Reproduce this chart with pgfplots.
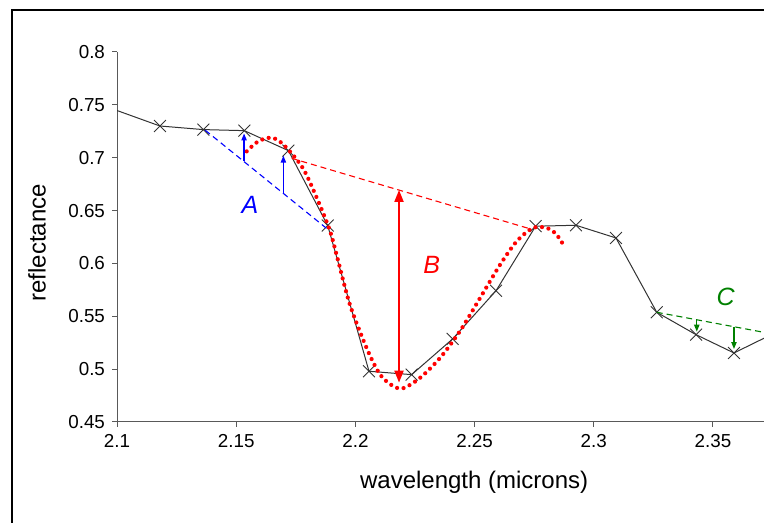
\documentclass[border=0pt]{standalone}
\usepackage{fontspec}
\setmainfont{Liberation Sans}
\usepackage{pgfplots}
\pgfplotsset{compat=1.18}
\usetikzlibrary{arrows.meta}

\definecolor{xlblue}{RGB}{0,0,255}
\definecolor{xlred}{RGB}{255,0,0}
\definecolor{xlgreen}{RGB}{0,128,0}

\begin{document}
\begin{tikzpicture}
\useasboundingbox (0,0) rectangle (382pt,261.5pt);
% outer chart frame, cut by the picture edge
\begin{scope}
\clip (0,0) rectangle (382pt,261.5pt);
\draw[line width=1pt] (6.15pt,-5pt) -- (6.15pt,256.35pt) -- (400pt,256.35pt);
\end{scope}
\begin{axis}[
    at={(58.5pt,50.5pt)}, anchor=south west,
    scale only axis, width=323.5pt, height=185pt,
    xmin=2.1, xmax=2.3714, ymin=0.45, ymax=0.8,
    axis x line=bottom, axis y line=left,
    axis line style={-, draw=black!65, line width=0.5pt},
    xtick={2.1,2.15,2.2,2.25,2.3,2.35},
    ytick={0.45,0.5,0.55,0.6,0.65,0.7,0.75,0.8},
    tick align=outside, major tick length=2.5pt,
    tick style={draw=black!65, line width=0.5pt},
    /pgf/number format/assume math mode=true,
    /pgf/number format/fixed, /pgf/number format/precision=2,
    tick label style={font=\fontsize{9.4}{11}\selectfont, text=black},
    xlabel={wavelength (microns)}, ylabel={reflectance},
    label style={font=\fontsize{12}{14}\selectfont},
    xlabel style={at={(axis description cs:0.552,-0.162)}, anchor=center},
    ylabel style={at={(axis description cs:-0.1236,0.484)}, anchor=center},
    clip=true, clip marker paths=true,
]
% measured spectrum
\addplot[black!80, line width=0.5pt, mark=x, mark size=4.2pt, mark options={line width=0.45pt}] coordinates {
    (2.0836,0.758)(2.1180,0.730)(2.1362,0.7266)(2.1534,0.7256)(2.1719,0.7067)
    (2.1884,0.6358)(2.2057,0.498)(2.2236,0.4948)(2.2408,0.5286)(2.2590,0.5742)
    (2.2756,0.6352)(2.2925,0.6361)(2.3093,0.6241)(2.3264,0.5538)(2.3429,0.5326)
    (2.3588,0.5153)(2.3757,0.534)
};
% fitted band shape (dotted)
\addplot[xlred, line width=2.1pt, smooth, line cap=round, dash pattern=on 0pt off 3.3pt] coordinates {
    (2.1544,0.706)(2.1583,0.714)(2.1628,0.7187)(2.1667,0.7177)(2.1712,0.7092)
    (2.1780,0.690)(2.1838,0.662)(2.1893,0.631)(2.1927,0.603)(2.1977,0.561)
    (2.2047,0.520)(2.2103,0.495)(2.2158,0.484)(2.2201,0.482)(2.2271,0.4917)
    (2.2355,0.5106)(2.2439,0.5361)(2.2523,0.5673)(2.2607,0.5988)(2.2677,0.621)
    (2.2745,0.6336)(2.2802,0.6336)(2.2841,0.628)(2.2872,0.6178)
};
% continuum lines
\addplot[xlblue, line width=0.55pt, dash pattern=on 3pt off 2pt] coordinates {(2.1370,0.726)(2.1880,0.633)};
\addplot[xlred, line width=0.55pt, dash pattern=on 3pt off 2pt] coordinates {(2.1733,0.6994)(2.2739,0.6323)};
\addplot[xlgreen, line width=0.55pt, dash pattern=on 3pt off 2pt] coordinates {(2.3264,0.5538)(2.3714,0.5348)};
% depth arrows
\addplot[xlblue, line width=0.7pt, -{Triangle[length=3.5pt,width=2.6pt]}] coordinates {(2.1533,0.6965)(2.1533,0.7230)};
\addplot[xlblue, line width=0.7pt, -{Triangle[length=3.5pt,width=2.6pt]}] coordinates {(2.1698,0.6655)(2.1698,0.7020)};
\addplot[xlred, line width=1pt, {Triangle[length=6pt,width=4.5pt]}-{Triangle[length=6pt,width=4.5pt]}] coordinates {(2.2183,0.4872)(2.2183,0.6695)};
\addplot[xlgreen, line width=0.7pt, -{Triangle[length=3.5pt,width=2.6pt]}] coordinates {(2.3432,0.5474)(2.3432,0.5354)};
\addplot[xlgreen, line width=0.7pt, -{Triangle[length=3.5pt,width=2.6pt]}] coordinates {(2.3588,0.5401)(2.3588,0.5190)};
% labels
\node[font=\fontsize{12.5}{14}\selectfont\itshape, text=xlblue] at (axis cs:2.1558,0.6553) {A};
\node[font=\fontsize{12.5}{14}\selectfont\itshape, text=xlred] at (axis cs:2.2320,0.5985) {B};
\node[font=\fontsize{12.5}{14}\selectfont\itshape, text=xlgreen] at (axis cs:2.3553,0.5685) {C};
\end{axis}
\end{tikzpicture}
\end{document}
